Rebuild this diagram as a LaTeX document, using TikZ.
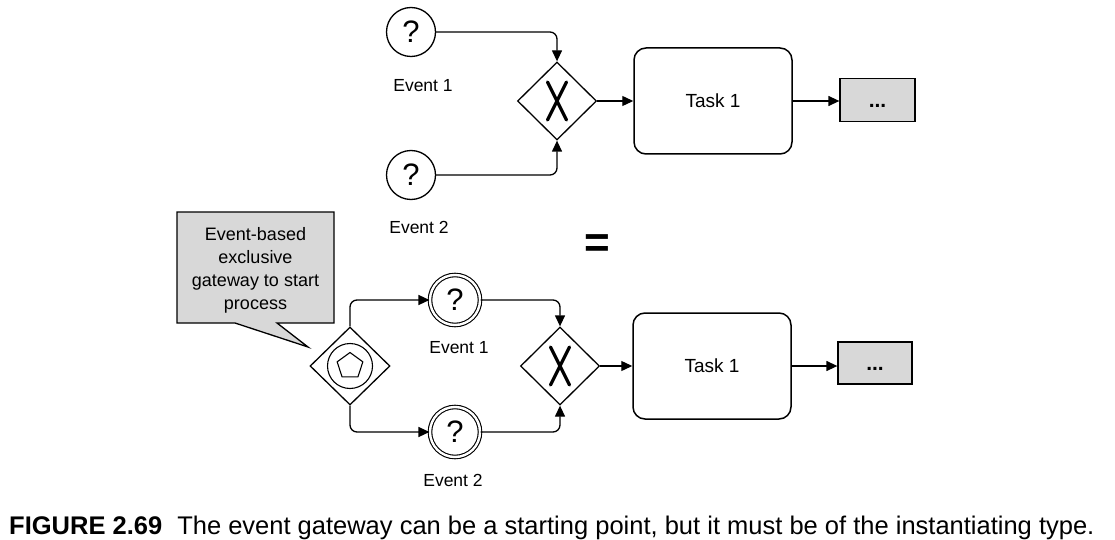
\documentclass[tikz,border=0pt]{standalone}
\usepackage{fontspec}
\setmainfont{Liberation Sans}
\usetikzlibrary{shapes.geometric,arrows.meta,calc}
\definecolor{boxgray}{HTML}{D8D8D8}
\begin{document}
\begin{tikzpicture}[x=1pt,y=-1pt,
  ln/.style={line width=1.3pt},
  flow/.style={ln,-{Triangle[length=11pt,width=10pt]},rounded corners=7pt},
  evt/.style={circle,draw,ln,minimum size=49pt,inner sep=0pt,font=\fontsize{31}{31}\selectfont},
  sevt/.style={circle,draw,line width=1.1pt,double,double distance=2.4pt,minimum size=50pt,inner sep=0pt,font=\fontsize{31}{31}\selectfont},
  gw/.style={diamond,draw,ln,minimum width=79pt,minimum height=78pt,inner sep=0pt},
  task/.style={rectangle,rounded corners=12pt,draw,line width=1.5pt,minimum width=158pt,minimum height=106pt,font=\fontsize{19}{19}\selectfont},
  more/.style={rectangle,draw,ln,fill=boxgray,minimum width=75pt,minimum height=43pt,font=\fontsize{21}{21}\selectfont\bfseries},
  lbl/.style={font=\fontsize{17.5}{21}\selectfont,inner sep=0pt},
  xmark/.style={line width=3.2pt,line cap=round},
]
\useasboundingbox (0,0) rectangle (1115,540);

% ---------- top ----------
\node[evt] (e1t) at (411,32) {?};
\node[evt] (e2t) at (411,175) {?};
\node[lbl] (l1t) at (423,86) {Event 1};
\node[lbl] (l2t) at (419,227) {Event 2};
\node[gw] (g1) at (557,101) {};
\draw[xmark] ($(g1)+(-9.5,-19)$) -- ($(g1)+(9.5,19)$);
\draw[xmark] ($(g1)+(9.5,-19)$) -- ($(g1)+(-9.5,19)$);
\node[task] (t1) at (713,101) {Task 1};
\node[more] (d1) at (877.5,100) {\vphantom{X}...};
\draw[flow] (e1t.east) -| (g1.north);
\draw[flow] (e2t.east) -| (g1.south);
\draw[flow] (g1.east) -- (t1.west);
\draw[flow] (t1.east) -- (d1.west |- t1.east);

% ---------- equals ----------
\node[font=\fontsize{44}{44}\selectfont\bfseries,inner sep=0pt] (eq) at (597,246) {=};

% ---------- callout ----------
\draw[ln,fill=boxgray] (177,212) -- (334,212) -- (334,323) -- (277,323) -- (308,347) -- (235,323) -- (177,323) -- cycle;
\node[font=\fontsize{18}{23}\selectfont,align=center,inner sep=0pt] (call) at (255.5,270) {Event-based\\exclusive\\gateway to start\\process};

% ---------- bottom ----------
\node[gw,minimum width=80pt] (eg) at (350,366) {};
\node[circle,draw,line width=1.1pt,minimum size=45pt,inner sep=0pt] (egc) at (eg) {};
\node[regular polygon,regular polygon sides=5,draw,line width=1.1pt,minimum size=27pt,inner sep=0pt] (pent) at (eg) {};
\node[sevt] (e1b) at (455,300) {?};
\node[sevt] (e2b) at (455,432) {?};
\node[lbl] (l1b) at (459,348) {Event 1};
\node[lbl] (l2b) at (453,480) {Event 2};
\node[gw] (g2) at (560,366) {};
\draw[xmark] ($(g2)+(-9.5,-19)$) -- ($(g2)+(9.5,19)$);
\draw[xmark] ($(g2)+(9.5,-19)$) -- ($(g2)+(-9.5,19)$);
\node[task] (t2) at (712,366) {Task 1};
\node[more,minimum width=74pt,minimum height=42pt] (d2) at (875,363) {\vphantom{X}...};
\draw[flow] (eg.north) |- (e1b.west);
\draw[flow] (eg.south) |- (e2b.west);
\draw[flow] (e1b.east) -| (g2.north);
\draw[flow] (e2b.east) -| (g2.south);
\draw[flow] (g2.east) -- (t2.west);
\draw[flow] (t2.east) -- (d2.west |- t2.east);

% ---------- caption ----------
\node[anchor=base west,inner sep=0pt,font=\fontsize{25.5}{30}\selectfont] (cap) at (9,534) {\textbf{FIGURE 2.69}\hspace{15pt}The event gateway can be a starting point, but it must be of the instantiating type.};
\end{tikzpicture}
\end{document}
